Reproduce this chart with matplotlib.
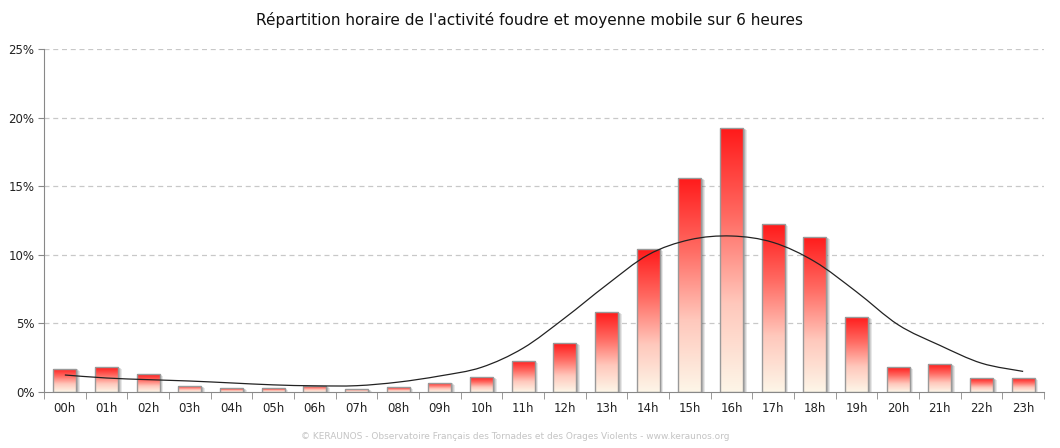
import numpy as np
import matplotlib
matplotlib.use("Agg")
import matplotlib.pyplot as plt
from matplotlib.patches import Rectangle, PathPatch
from matplotlib.path import Path
from matplotlib.colors import LinearSegmentedColormap

hours = ["%02dh" % h for h in range(24)]
activity = [1.68, 1.82, 1.31, 0.44, 0.29, 0.29, 0.44, 0.22, 0.36, 0.66, 1.09, 2.26,
            3.57, 5.83, 10.42, 15.6, 19.24, 12.24, 11.3, 5.47, 1.82, 2.04, 1.02, 1.02]
moving_avg = [1.24, 1.02, 0.9, 0.8, 0.66, 0.52, 0.45, 0.46, 0.72, 1.17, 1.8, 3.2,
              5.4, 7.8, 10.0, 11.1, 11.37, 10.9, 9.5, 7.3, 4.9, 3.4, 2.1, 1.5]
yticks = [0, 5, 10, 15, 20, 25]

fig = plt.figure(figsize=(10.6, 4.48), dpi=100)
ax = fig.add_axes([44 / 1060, 1 - 392 / 448, 1000 / 1060, 343 / 448])
ax.set_xlim(-0.5, 23.5)
ax.set_ylim(0, 25)

cmap = LinearSegmentedColormap.from_list("rf", ["#fdf6e8", "#ffc8bc", "#ff6a62", "#ff1a1a"])
grad = np.linspace(0, 1, 256).reshape(-1, 1)
w = 0.55
for i, v in enumerate(activity):
    # soft shadow on the right side
    for k, a in enumerate([0.12, 0.14, 0.18]):
        off = 0.09 - k * 0.025
        sh = Rectangle((i - w / 2 + off, 0), w, v - 0.12 + 0.04 * k, facecolor="#444444",
                       edgecolor="none", alpha=a, zorder=1)
        ax.add_patch(sh)
    r = Rectangle((i - w / 2, 0), w, v, facecolor="none", edgecolor="#999999",
                  linewidth=1, zorder=3)
    ax.add_patch(r)
    im = ax.imshow(grad, extent=[i - w / 2, i + w / 2, 0, v], origin="lower",
                   cmap=cmap, aspect="auto", zorder=2)
    im.set_clip_path(r)

# smooth moving average line (Bezier control points from the data)
x = np.arange(24, dtype=float)
y = np.array(moving_avg)
verts = [(x[0], y[0])]
codes = [Path.MOVETO]
for i in range(23):
    p0 = (x[max(i - 1, 0)], y[max(i - 1, 0)])
    p1 = (x[i], y[i])
    p2 = (x[i + 1], y[i + 1])
    p3 = (x[min(i + 2, 23)], y[min(i + 2, 23)])
    c1 = (p1[0] + (p2[0] - p0[0]) / 6, p1[1] + (p2[1] - p0[1]) / 6)
    c2 = (p2[0] - (p3[0] - p1[0]) / 6, p2[1] - (p3[1] - p1[1]) / 6)
    verts += [c1, c2, p2]
    codes += [Path.CURVE4] * 3
ax.add_patch(PathPatch(Path(verts, codes), facecolor="none", edgecolor="#222222",
                       linewidth=0.9, zorder=4))

ax.set_yticks(yticks)
ax.set_yticklabels(["%d%%" % t for t in yticks], fontsize=8.5, color="#222222")
ax.set_xticks(range(24))
ax.set_xticklabels(hours, fontsize=8.5, color="#222222")
ax.set_xticks(np.arange(-0.5, 24, 1), minor=True)
ax.tick_params(axis="x", which="major", length=0, pad=7)
ax.tick_params(axis="x", which="minor", length=5, color="#888888", direction="out")
ax.tick_params(axis="y", length=4, color="#888888", pad=3)
for t in yticks[1:]:
    ax.axhline(t, color="#c8c8c8", linestyle=(0, (4, 3)), linewidth=0.9, zorder=0)
for s in ["top", "right"]:
    ax.spines[s].set_visible(False)
ax.spines["left"].set_color("#888888")
ax.spines["bottom"].set_color("#888888")

fig.text(530 / 1060, 1 - 20 / 448, "Répartition horaire de l'activité foudre et moyenne mobile sur 6 heures",
         ha="center", va="center", fontsize=11, color="#111111")
fig.text(515 / 1060, 1 - 436 / 448,
         "© KERAUNOS - Observatoire Français des Tornades et des Orages Violents - www.keraunos.org",
         ha="center", va="center", fontsize=6.5, color="#c4c4c4")

fig.savefig("out.png", dpi=100)
